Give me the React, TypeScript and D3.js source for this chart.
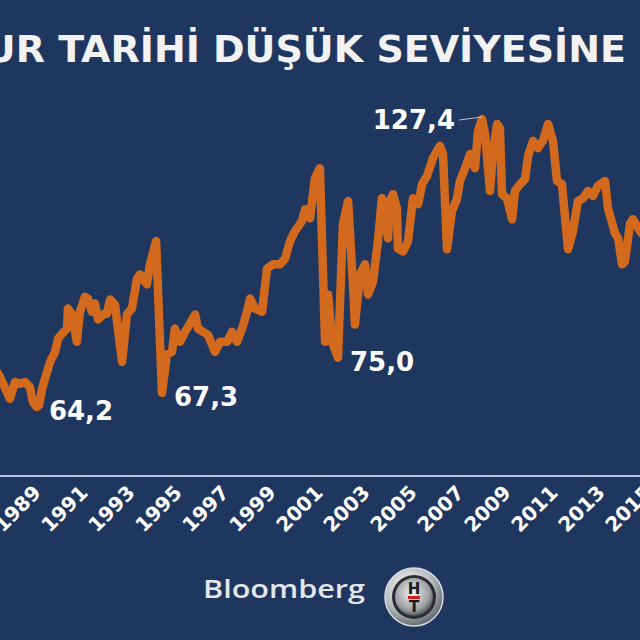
import React, { useEffect, useRef } from 'react';
import * as d3 from 'd3';

const dates = [
  1987.1, 1987.3, 1987.72, 1987.94, 1988.15, 1988.36, 1988.57, 1988.7, 1988.87, 1988.96,
  1989.09, 1989.3, 1989.43, 1989.64, 1989.77, 1989.94, 1990.15, 1990.19, 1990.36, 1990.57,
  1990.7, 1990.91, 1991.04, 1991.21, 1991.34, 1991.47, 1991.68, 1991.85, 1991.98, 1992.19,
  1992.49, 1992.7, 1992.91, 1993.13, 1993.26, 1993.55, 1993.68, 1993.94, 1994.19, 1994.4,
  1994.62, 1994.74, 1994.96, 1995.17, 1995.38, 1995.6, 1995.72, 1995.94, 1996.15, 1996.45,
  1996.66, 1996.96, 1997.17, 1997.38, 1997.6, 1997.81, 1997.94, 1998.15, 1998.45, 1998.66,
  1998.91, 1999.21, 1999.43, 1999.64, 1999.85, 2000.15, 2000.28, 2000.49, 2000.7, 2000.91,
  2001.13, 2001.26, 2001.43, 2001.68, 2001.89, 2002.11, 2002.32, 2002.4, 2002.62, 2002.83,
  2002.96, 2003.17, 2003.38, 2003.55, 2003.68, 2003.81, 2003.89, 2004.02, 2004.19, 2004.23,
  2004.45, 2004.66, 2004.87, 2005.09, 2005.26, 2005.47, 2005.72, 2006.02, 2006.15, 2006.32,
  2006.53, 2006.74, 2006.87, 2007.09, 2007.3, 2007.51, 2007.64, 2007.81, 2007.94, 2008.15,
  2008.28, 2008.45, 2008.57, 2008.66, 2008.87, 2009.09, 2009.21, 2009.43, 2009.64, 2009.77,
  2009.98, 2010.19, 2010.4, 2010.62, 2010.83, 2011.0, 2011.21, 2011.47, 2011.68, 2011.89,
  2012.11, 2012.32, 2012.53, 2012.74, 2013.04, 2013.17, 2013.47, 2013.6, 2013.77, 2013.89,
  2014.11, 2014.23, 2014.53, 2014.75,
];
const reer = [
  72.5, 70.8, 66.0, 69.7, 69.3, 69.7, 68.6, 65.3, 64.2, 64.6,
  68.2, 71.9, 74.1, 76.3, 79.2, 80.3, 81.4, 85.8, 84.5, 78.5,
  85.1, 88.4, 88.0, 85.1, 86.9, 83.4, 84.5, 84.7, 87.8, 86.7,
  74.1, 84.5, 85.8, 92.4, 93.3, 91.1, 95.5, 100.6, 67.3, 75.7,
  76.3, 81.4, 78.5, 80.7, 82.5, 84.5, 81.4, 80.7, 80.0, 76.3,
  78.5, 78.5, 80.7, 78.5, 81.4, 85.1, 88.0, 85.8, 85.1, 94.6,
  95.5, 95.5, 96.8, 100.6, 102.8, 105.0, 107.6, 105.6, 114.4, 116.6,
  78.5, 88.9, 78.5, 75.0, 104.3, 109.4, 91.1, 82.3, 93.3, 95.5,
  88.9, 91.7, 100.6, 110.0, 105.6, 101.2, 109.4, 110.9, 107.8, 99.0,
  98.3, 100.6, 110.0, 108.7, 113.1, 114.9, 118.8, 121.5, 119.7, 98.8,
  107.2, 109.8, 113.8, 116.6, 119.7, 116.6, 124.8, 127.4, 124.1, 111.6,
  120.4, 126.3, 125.4, 110.9, 110.0, 105.4, 111.6, 113.1, 114.2, 119.3,
  122.6, 121.0, 122.6, 126.3, 122.6, 113.8, 113.1, 98.8, 102.8, 109.4,
  110.0, 111.6, 110.5, 112.7, 113.8, 107.8, 102.3, 101.2, 95.5, 96.1,
  104.5, 105.4, 102.8, 101.5,
];

const tickYears = [1989, 1991, 1993, 1995, 1997, 1999, 2001, 2003, 2005, 2007, 2009, 2011, 2013, 2015];

const noteDates = [1988.87, 1994.19, 2001.68, 2007.81];
const noteValues = [64.2, 67.3, 75.0, 127.4];
const noteTexts = ['64,2', '67,3', '75,0', '127,4'];

const title = 'KUR TARİHİ DÜŞÜK SEVİYESİNE';

const App: React.FC = () => {
  const ref = useRef<SVGSVGElement | null>(null);

  useEffect(() => {
    const svg = d3.select(ref.current);
    const width = 640;
    const height = 640;
    svg.selectAll('*').remove();
    svg.attr('width', width).attr('height', height).attr('viewBox', `0 0 ${width} ${height}`);

    const font = '"DejaVu Sans", Verdana, sans-serif';

    svg.append('rect').attr('width', width).attr('height', height).attr('fill', '#1f365f');

    const x = d3.scaleLinear().domain([1989, 2015]).range([40, 651]);
    const y = d3.scaleLinear().domain([64.2, 127.4]).range([407, 119]);

    // title (cropped on the left like the original)
    svg.append('text')
      .attr('x', 626)
      .attr('y', 62)
      .attr('text-anchor', 'end')
      .attr('font-family', font)
      .attr('font-weight', 'bold')
      .attr('font-size', 38)
      .attr('fill', '#f2f2f2')
      .text(title);

    // baseline
    svg.append('line')
      .attr('x1', 0).attr('x2', width)
      .attr('y1', 476).attr('y2', 476)
      .attr('stroke', '#b3c3da')
      .attr('stroke-width', 2);

    const points = dates.map((d, i) => [d, reer[i]] as [number, number]);
    const line = d3.line<[number, number]>()
      .x(d => x(d[0]))
      .y(d => y(d[1]));

    svg.append('path')
      .datum(points)
      .attr('d', line)
      .attr('fill', 'none')
      .attr('stroke', '#d2691d')
      .attr('stroke-width', 8.5)
      .attr('stroke-linejoin', 'round')
      .attr('stroke-linecap', 'round');

    // annotations
    noteTexts.forEach((t, i) => {
      const px = x(noteDates[i]);
      const py = y(noteValues[i]);
      const isPeak = i === 3;
      if (isPeak) {
        svg.append('line')
          .attr('x1', px - 23).attr('y1', py + 1)
          .attr('x2', px).attr('y2', py - 2)
          .attr('stroke', '#b8c0cc')
          .attr('stroke-width', 1);
      }
      svg.append('text')
        .attr('x', isPeak ? px - 27 : px + 12)
        .attr('y', isPeak ? py + 10 : py + 13)
        .attr('text-anchor', isPeak ? 'end' : 'start')
        .attr('font-family', font)
        .attr('font-weight', 'bold')
        .attr('font-size', 26)
        .attr('fill', '#ffffff')
        .text(t);
    });

    // rotated year labels
    svg.append('g')
      .selectAll('text')
      .data(tickYears)
      .join('text')
      .attr('transform', d => `translate(${x(d) + 2},494) rotate(-45)`)
      .attr('text-anchor', 'end')
      .attr('font-family', font)
      .attr('font-weight', 'bold')
      .attr('font-size', 20)
      .attr('fill', '#ffffff')
      .text(d => String(d));

    // Bloomberg HT logo
    svg.append('text')
      .attr('x', 203)
      .attr('y', 598)
      .attr('font-family', '"Open Sans", "DejaVu Sans", sans-serif')
      .attr('font-weight', 600)
      .attr('font-size', 25)
      .attr('textLength', 162)
      .attr('lengthAdjust', 'spacingAndGlyphs')
      .attr('fill', '#e4e6ea')
      .text('Bloomberg');

    const defs = svg.append('defs');
    const ring = defs.append('radialGradient').attr('id', 'ring').attr('cx', '40%').attr('cy', '35%').attr('r', '70%');
    ring.append('stop').attr('offset', '0%').attr('stop-color', '#ffffff');
    ring.append('stop').attr('offset', '60%').attr('stop-color', '#b9bcc0');
    ring.append('stop').attr('offset', '100%').attr('stop-color', '#55595f');
    const core = defs.append('radialGradient').attr('id', 'core').attr('cx', '45%').attr('cy', '40%').attr('r', '65%');
    core.append('stop').attr('offset', '0%').attr('stop-color', '#f4f4f4');
    core.append('stop').attr('offset', '70%').attr('stop-color', '#9a9da2');
    core.append('stop').attr('offset', '100%').attr('stop-color', '#3b3e44');

    const logo = svg.append('g').attr('transform', 'translate(414,597)');
    logo.append('circle').attr('r', 29).attr('fill', 'url(#ring)').attr('stroke', '#d9dde2').attr('stroke-width', 1.5);
    logo.append('circle').attr('r', 22).attr('fill', '#2a2d33');
    logo.append('circle').attr('r', 19).attr('fill', 'url(#core)');
    logo.append('text').attr('y', -3).attr('text-anchor', 'middle')
      .attr('font-family', font).attr('font-weight', 'bold').attr('font-size', 15)
      .attr('fill', '#1a1a1a').text('H');
    logo.append('rect').attr('x', -6).attr('y', -1).attr('width', 12).attr('height', 3).attr('fill', '#d01f1f');
    logo.append('text').attr('y', 15).attr('text-anchor', 'middle')
      .attr('font-family', font).attr('font-weight', 'bold').attr('font-size', 15)
      .attr('fill', '#1a1a1a').text('T');
  }, []);

  return <svg ref={ref} style={{ position: 'absolute', left: 0, top: 0, display: 'block' }}></svg>;
};

export default App;
